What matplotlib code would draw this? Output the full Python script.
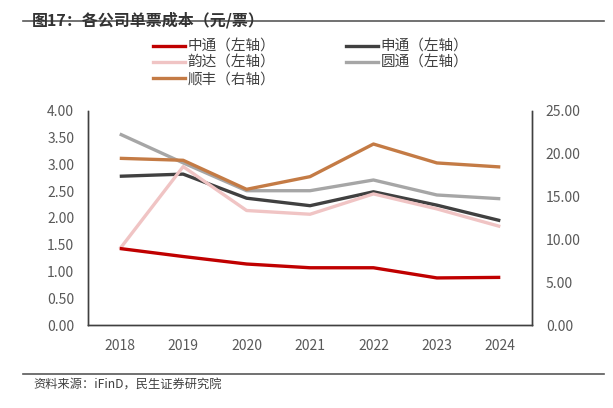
import matplotlib
matplotlib.use("Agg")
import matplotlib.pyplot as plt
from matplotlib.lines import Line2D

plt.rcParams['font.family'] = ['Noto Sans CJK SC', 'DejaVu Sans']

# 数据
anos = ["2018", "2019", "2020", "2021", "2022", "2023", "2024"]
zto = [1.43, 1.28, 1.14, 1.07, 1.07, 0.88, 0.89]
sto = [2.78, 2.82, 2.37, 2.23, 2.49, 2.24, 1.95]
yunda = [1.42, 2.96, 2.14, 2.07, 2.45, 2.17, 1.84]
yto = [3.57, 3.03, 2.51, 2.51, 2.71, 2.43, 2.36]
sf = [19.47, 19.24, 15.85, 17.33, 21.14, 18.93, 18.46]

left_ticks = [0, 0.5, 1.0, 1.5, 2.0, 2.5, 3.0, 3.5, 4.0]
right_ticks = [0, 5, 10, 15, 20, 25]

c_zto = "#C00000"
c_sto = "#404040"
c_yunda = "#F0C4C4"
c_yto = "#A6A6A6"
c_sf = "#C47B45"
tick_c = "#595959"

fig = plt.figure(figsize=(6.13, 4.08), dpi=100)
ax = fig.add_axes([0.1436, 0.2034, 0.7243, 0.5246])
ax2 = ax.twinx()

x = range(len(anos))
lw = 2.4
ax.plot(x, yto, color=c_yto, lw=lw, solid_capstyle="butt")
ax.plot(x, sto, color=c_sto, lw=lw, solid_capstyle="butt")
ax.plot(x, yunda, color=c_yunda, lw=lw, solid_capstyle="butt")
ax.plot(x, zto, color=c_zto, lw=lw, solid_capstyle="butt")
ax2.plot(x, sf, color=c_sf, lw=lw, solid_capstyle="butt")

ax.set_xlim(-0.5, len(anos) - 0.5)
ax.set_ylim(0, 4)
ax2.set_ylim(0, 25)
ax.set_yticks(left_ticks)
ax.set_yticklabels([f"{v:.2f}" for v in left_ticks])
ax2.set_yticks(right_ticks)
ax2.set_yticklabels([f"{v:.2f}" for v in right_ticks])
ax.set_xticks(list(x))
ax.set_xticklabels(anos)

for a in (ax, ax2):
    a.tick_params(length=0, labelsize=10, colors=tick_c, pad=8)
    a.spines["top"].set_visible(False)
    for s in ("left", "right", "bottom"):
        a.spines[s].set_color("#404040")
        a.spines[s].set_linewidth(1.0)
ax.tick_params(axis="y", pad=10)
ax2.tick_params(axis="y", pad=10)
ax.tick_params(axis="x", pad=10)

# 图例
handles = [
    Line2D([], [], color=c_zto, lw=2.4),
    Line2D([], [], color=c_yunda, lw=2.4),
    Line2D([], [], color=c_sf, lw=2.4),
    Line2D([], [], color=c_sto, lw=2.4),
    Line2D([], [], color=c_yto, lw=2.4),
]
labels = ["中通（左轴）", "韵达（左轴）", "顺丰（右轴）", "申通（左轴）", "圆通（左轴）"]
fig.legend(handles, labels, ncol=2, loc="upper left", bbox_to_anchor=(0.228, 0.935),
           frameon=False, fontsize=10.5, handlelength=2.2, handletextpad=0.15,
           labelspacing=0.15, columnspacing=4.9, labelcolor="#404040")

# 标题与来源
fig.text(0.052, 0.97, "图17：各公司单票成本（元/票）", fontsize=11.5, fontweight="bold",
         color="#333333", va="top")
fig.add_artist(Line2D([0.038, 0.985], [0.948, 0.948], color="#595959", lw=1.2))
fig.add_artist(Line2D([0.038, 0.985], [0.083, 0.083], color="#595959", lw=1.2))
fig.text(0.055, 0.055, "资料来源：iFinD，民生证券研究院", fontsize=8.8, color="#404040", va="center")

fig.savefig("out.png", dpi=100)
